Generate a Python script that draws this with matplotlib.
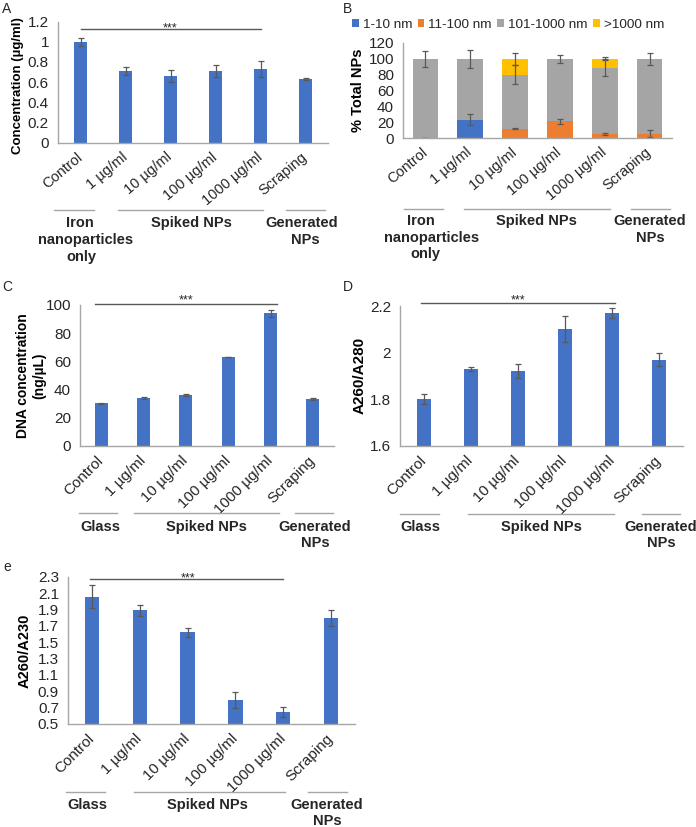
import matplotlib
matplotlib.use("Agg")
import matplotlib.pyplot as plt
from matplotlib.lines import Line2D

plt.rcParams['font.family'] = ['Liberation Sans', 'DejaVu Sans']

# ---------------- data ----------------
categories = ["Control", "1 µg/ml", "10 µg/ml", "100 µg/ml", "1000 µg/ml", "Scraping"]

# Panel A: iron concentration (µg/ml)
fe_conc = [1.00, 0.71, 0.66, 0.71, 0.73, 0.63]
fe_err = [0.04, 0.04, 0.06, 0.055, 0.075, 0.012]

# Panel B: % total NPs by size class (stacked)
size_classes = ["1-10 nm", "11-100 nm", "101-1000 nm", ">1000 nm"]
np_1_10 = [0, 23, 0, 0, 0, 0]
np_1_10_err = [0.5, 7, 0, 0, 0, 0]
np_11_100 = [0, 0, 12, 21, 5, 5.5]
np_11_100_err = [0, 0, 0.5, 3, 1, 4]
np_101_1000 = [100, 77, 68, 79, 84, 94.5]
np_101_1000_err = [10, 11, 12, 5, 11, 8]
np_gt1000 = [0, 0, 20, 0, 11, 0]
np_gt1000_err = [0, 0, 8, 0, 2, 0]

# Panel C: DNA concentration (ng/µL)
dna_conc = [30, 34, 36, 63, 94, 33.5]
dna_err = [0.5, 0.5, 0.5, 0.3, 2.4, 0.7]

# Panel D: A260/A280
a260_280 = [1.80, 1.93, 1.92, 2.10, 2.17, 1.97]
a260_280_err = [0.023, 0.01, 0.03, 0.055, 0.02, 0.027]

# Panel E: A260/A230
a260_230 = [2.06, 1.89, 1.62, 0.79, 0.64, 1.80]
a260_230_err = [0.14, 0.07, 0.055, 0.10, 0.06, 0.10]

# ---------------- style ----------------
BLUE = '#4472C4'
ORANGE = '#ED7D31'
GRAY = '#A5A5A5'
YELLOW = '#FFC000'
AXC = '#A6A6A6'
ERRC = '#595959'
TXT = '#262626'

W, H = 696, 827
fig = plt.figure(figsize=(W / 100, H / 100), dpi=100)


def px_ax(l, r, t, b):
    return fig.add_axes([l / W, 1 - b / H, (r - l) / W, (b - t) / H])


def fx(x):
    return x / W


def fy(y):
    return 1 - y / H


def style(ax, ylim, yticks, ylabels, ylabel, label_x_px, left_px, width_px,
          rot=45, xfs=11, lfs=10.5):
    ax.set_xlim(-0.5, 5.5)
    ax.set_ylim(*ylim)
    ax.set_yticks(yticks, ylabels)
    ax.set_xticks(range(len(categories)), categories, rotation=rot, ha='right',
                  va='center', rotation_mode='anchor')
    ax.tick_params(axis='both', length=0, labelsize=11, colors=TXT)
    ax.tick_params(axis='x', pad=9, labelsize=xfs)
    ax.tick_params(axis='y', pad=6.5)
    for s in ['top', 'right']:
        ax.spines[s].set_visible(False)
    for s in ['left', 'bottom']:
        ax.spines[s].set_color(AXC)
        ax.spines[s].set_linewidth(1)
    ax.set_ylabel(ylabel, fontsize=lfs, fontweight='bold', color='black',
                  linespacing=1.15)
    ax.yaxis.set_label_coords((label_x_px - left_px) / width_px, 0.5)


def sig(ax, x0, x1, y, xt, dy):
    ax.plot([x0, x1], [y, y], color=ERRC, lw=1, clip_on=False)
    ax.annotate('***', (xt, y), xytext=(0, dy), textcoords='offset points',
                ha='center', va='center', fontsize=9, color=TXT,
                annotation_clip=False)


def groups(line_y, segs, texts):
    for (x0, x1) in segs:
        fig.add_artist(Line2D([fx(x0), fx(x1)], [fy(line_y), fy(line_y)],
                              color=AXC, lw=1))
    for (t, x, y) in texts:
        fig.text(fx(x), fy(y), t, ha='center', va='baseline', fontsize=10.5,
                 fontweight='bold', color=TXT)


def panel_letter(t, x, y):
    fig.text(fx(x), fy(y), t, ha='left', va='center', fontsize=10, color=TXT)


x = list(range(len(categories)))
ekw = dict(fmt='none', ecolor=ERRC, elinewidth=0.9, capsize=2.5, capthick=0.9)

# ---------------- Panel A ----------------
axA = px_ax(58, 328, 21.5, 142.7)
axA.bar(x, fe_conc, width=0.29, color=BLUE)
axA.errorbar(x, fe_conc, yerr=fe_err, **ekw)
style(axA, (0, 1.2), [0, 0.2, 0.4, 0.6, 0.8, 1.0, 1.2],
      ['0', '0.2', '0.4', '0.6', '0.8', '1', '1.2'],
      'Concentration (µg/ml)', 24, 58, 270, rot=40, xfs=10.5, lfs=9.5)
axA.yaxis.set_label_coords((24 - 58) / 270, (142.7 - 86) / 121.2)
sig(axA, 0, 4, 1.13, 2, 0)
groups(210, [(54, 94), (118, 263), (286, 325)],
       [("Iron", 80, 227), ("nanoparticles", 86, 244), ("only", 81, 261),
        ("Spiked NPs", 191, 227), ("Generated", 302, 227), ("NPs", 305, 244)])
panel_letter('A', 2, 9)

# ---------------- Panel B ----------------
axB = px_ax(403, 672, 43, 138)
bw = 0.57
bottom = [0] * 6
stacks = [(np_1_10, np_1_10_err, BLUE), (np_11_100, np_11_100_err, ORANGE),
          (np_101_1000, np_101_1000_err, GRAY), (np_gt1000, np_gt1000_err, YELLOW)]
for (vals, errs, col), name in zip(stacks, size_classes):
    axB.bar(x, vals, width=bw, bottom=bottom, color=col, label=name)
    tops = [b + v for b, v in zip(bottom, vals)]
    xs = [xi for xi, e in zip(x, errs) if e > 0]
    ys = [t for t, e in zip(tops, errs) if e > 0]
    es = [e for e in errs if e > 0]
    axB.errorbar(xs, ys, yerr=es, **ekw)
    bottom = tops
style(axB, (0, 120), [0, 20, 40, 60, 80, 100, 120],
      ['0', '20', '40', '60', '80', '100', '120'],
      '% Total NPs', 365, 403, 269, rot=40, xfs=10.5, lfs=10.5)
leg = fig.legend(loc='center left', bbox_to_anchor=(fx(352), fy(25)), ncol=4,
                 frameon=False, fontsize=9.7, handlelength=0.5, handleheight=0.5,
                 handletextpad=0.3, columnspacing=0.4, borderaxespad=0,
                 borderpad=0)
for t in leg.get_texts():
    t.set_color(TXT)
groups(209, [(404, 443), (464, 610), (631, 670)],
       [("Iron", 421, 225), ("nanoparticles", 432, 242), ("only", 425, 258),
        ("Spiked NPs", 536, 225), ("Generated", 650, 225), ("NPs", 650, 242)])
panel_letter('B', 343, 9)

# ---------------- Panel C ----------------
axC = px_ax(80, 334, 305, 445.7)
axC.bar(x, dna_conc, width=0.31, color=BLUE)
axC.errorbar(x, dna_conc, yerr=dna_err, **ekw)
style(axC, (0, 100), [0, 20, 40, 60, 80, 100],
      ['0', '20', '40', '60', '80', '100'],
      'DNA concentration\n(ng/µL)', 46, 80, 254, lfs=10)
sig(axC, -0.15, 4.15, 100.7, 2, 2.5)
groups(513, [(79, 117), (134, 279), (295, 333)],
       [("Glass", 100, 531), ("Spiked NPs", 206, 531), ("Generated", 315, 531),
        ("NPs", 315, 547)])
panel_letter('C', 2, 287)

# ---------------- Panel D ----------------
axD = px_ax(400, 683, 306, 445.7)
axD.bar(x, a260_280, width=0.30, color=BLUE)
axD.errorbar(x, a260_280, yerr=a260_280_err, **ekw)
style(axD, (1.6, 2.2), [1.6, 1.8, 2.0, 2.2], ['1.6', '1.8', '2', '2.2'],
      'A260/A280', 367, 400, 283, lfs=11)
sig(axD, -0.06, 4.05, 2.214, 2, 2)
groups(514, [(400, 439), (468, 614), (642, 680)],
       [("Glass", 420, 531), ("Spiked NPs", 541, 531), ("Generated", 661, 531),
        ("NPs", 661, 547)])
panel_letter('D', 343, 287)

# ---------------- Panel E ----------------
axE = px_ax(68, 355, 577, 723.7)
axE.bar(x, a260_230, width=0.30, color=BLUE)
axE.errorbar(x, a260_230, yerr=a260_230_err, **ekw)
eticks = [0.5, 0.7, 0.9, 1.1, 1.3, 1.5, 1.7, 1.9, 2.1, 2.3]
style(axE, (0.5, 2.3), eticks, [f'{v:.1f}' for v in eticks],
      'A260/A230', 32, 68, 287, lfs=10.5)
sig(axE, -0.04, 4.0, 2.271, 2, 0.5)
groups(792, [(66, 105), (134, 285), (308, 347)],
       [("Glass", 87, 809), ("Spiked NPs", 207, 809), ("Generated", 327, 809),
        ("NPs", 327, 825)])
panel_letter('e', 3, 567)

fig.savefig('out.png', dpi=100)
